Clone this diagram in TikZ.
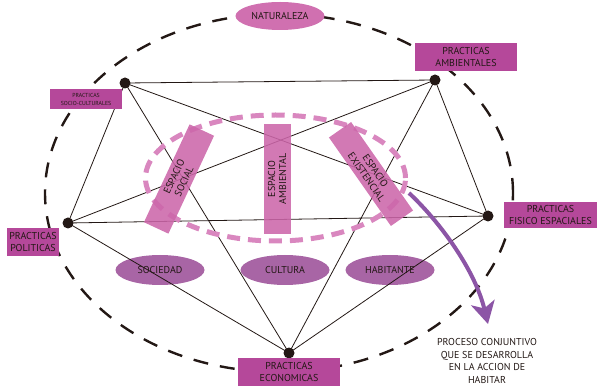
\documentclass[tikz,border=0pt]{standalone}
\usepackage{fontspec}
\setmainfont{PT Sans}
\usetikzlibrary{shapes.geometric, arrows.meta}
\definecolor{magbox}{HTML}{B5489A}
\definecolor{espink}{HTML}{CC66AA}
\definecolor{natpink}{HTML}{D070B0}
\definecolor{valpurp}{HTML}{A865A5}
\definecolor{dashpink}{HTML}{D987BF}
\definecolor{arrpurp}{HTML}{8C55A6}
\definecolor{ink}{HTML}{231815}
\tikzstyle{practica} = [rectangle, fill=magbox, text=ink, align=center, inner sep=0pt, font=\fontsize{10}{12}\selectfont]
\tikzstyle{espacio} = [rectangle, fill=espink, fill opacity=0.88, text opacity=1, text=ink, minimum width=108pt, minimum height=27pt, align=center, inner sep=0pt, font=\fontsize{10}{11}\selectfont]
\tikzstyle{valor} = [ellipse, fill=valpurp, text=ink, minimum width=89pt, minimum height=30pt, inner sep=0pt, font=\fontsize{10}{11}\selectfont]
\tikzstyle{dot} = [circle, fill=ink, minimum size=11pt, inner sep=0pt]
\tikzstyle{line} = [line width=0.8pt, draw=ink]
\tikzstyle{arrow} = [line width=4pt, draw=arrpurp, -{Stealth[length=22pt, width=24pt, inset=6pt]}]

\begin{document}
\begin{tikzpicture}[x=1pt, y=-1pt]
    \useasboundingbox (0,0) rectangle (597,387);
    % outer dashed ellipse
    \draw [draw=ink, line width=2.4pt, dash pattern=on 15pt off 12pt] (279,193) ellipse [x radius=234pt, y radius=179pt];

    \node (sociedad) [valor] at (160,270) {SOCIEDAD};
    \node (cultura) [valor] at (285,270) {CULTURA};
    \node (habitante) [valor] at (390,270) {HABITANTE};

    \node (pa) [dot] at (125,83) {};
    \node (pb) [dot] at (435,80) {};
    \node (pc) [dot] at (488,216) {};
    \node (pd) [dot] at (289,353) {};
    \node (pe) [dot] at (68,223) {};

    \draw [line] (pa.center) -- (pb.center);
    \draw [line] (pa.center) -- (pc.center);
    \draw [line] (pa.center) -- (pd.center);
    \draw [line] (pa.center) -- (pe.center);
    \draw [line] (pb.center) -- (pc.center);
    \draw [line] (pb.center) -- (pd.center);
    \draw [line] (pb.center) -- (pe.center);
    \draw [line] (pc.center) -- (pd.center);
    \draw [line] (pc.center) -- (pe.center);
    \draw [line] (pd.center) -- (pe.center);

    % inner dashed ellipse
    \draw [draw=dashpink, line width=5pt, dash pattern=on 13pt off 8pt] (275.5,178) ellipse [x radius=130pt, y radius=63pt];

    \node (esocial) [espacio, rotate=65] at (179,179) {ESPACIO\\SOCIAL};
    \node (eambiental) [espacio, rotate=90, minimum width=110pt] at (277,179) {ESPACIO\\AMBIENTAL};
    \node (eexistencial) [espacio, rotate=-55] at (371,174) {ESPACIO\\EXISTENCIAL};

    \node (naturaleza) [ellipse, fill=natpink, text=ink, minimum width=89pt, minimum height=28pt, inner sep=0pt, font=\fontsize{10}{11}\selectfont] at (280,16) {NATURALEZA};
    \node (ambientales) [practica, minimum width=102pt, minimum height=28pt] at (466,57) {PRACTICAS\\AMBIENTALES};
    \node (socioculturales) [practica, minimum width=72pt, minimum height=20pt, font=\fontsize{5.8}{8}\selectfont] at (86,99) {PRACTICAS\\SOCIO-CULTURALES};
    \node (fisico) [practica, minimum width=93pt, minimum height=26pt] at (550.5,215) {PRACTICAS\\FISICO ESPACIALES};
    \node (politicas) [practica, minimum width=52pt, minimum height=28pt] at (33,242) {PRACTICAS\\POLITICAS};
    \node (economicas) [practica, minimum width=102pt, minimum height=28pt] at (289,372) {PRACTICAS\\ECONOMICAS};

    \coordinate (arrowstart) at (409,193);
    \coordinate (arrowend) at (488,324);
    \draw [arrow] (arrowstart) .. controls (440,222) and (475,270) .. (arrowend);
    \node (proceso) [text=ink, align=center, font=\fontsize{10}{12.5}\selectfont] at (487,361)
    {PROCESO CONJUNTIVO\\QUE SE DESARROLLA\\EN LA ACCION DE\\HABITAR};
\end{tikzpicture}
\end{document}
